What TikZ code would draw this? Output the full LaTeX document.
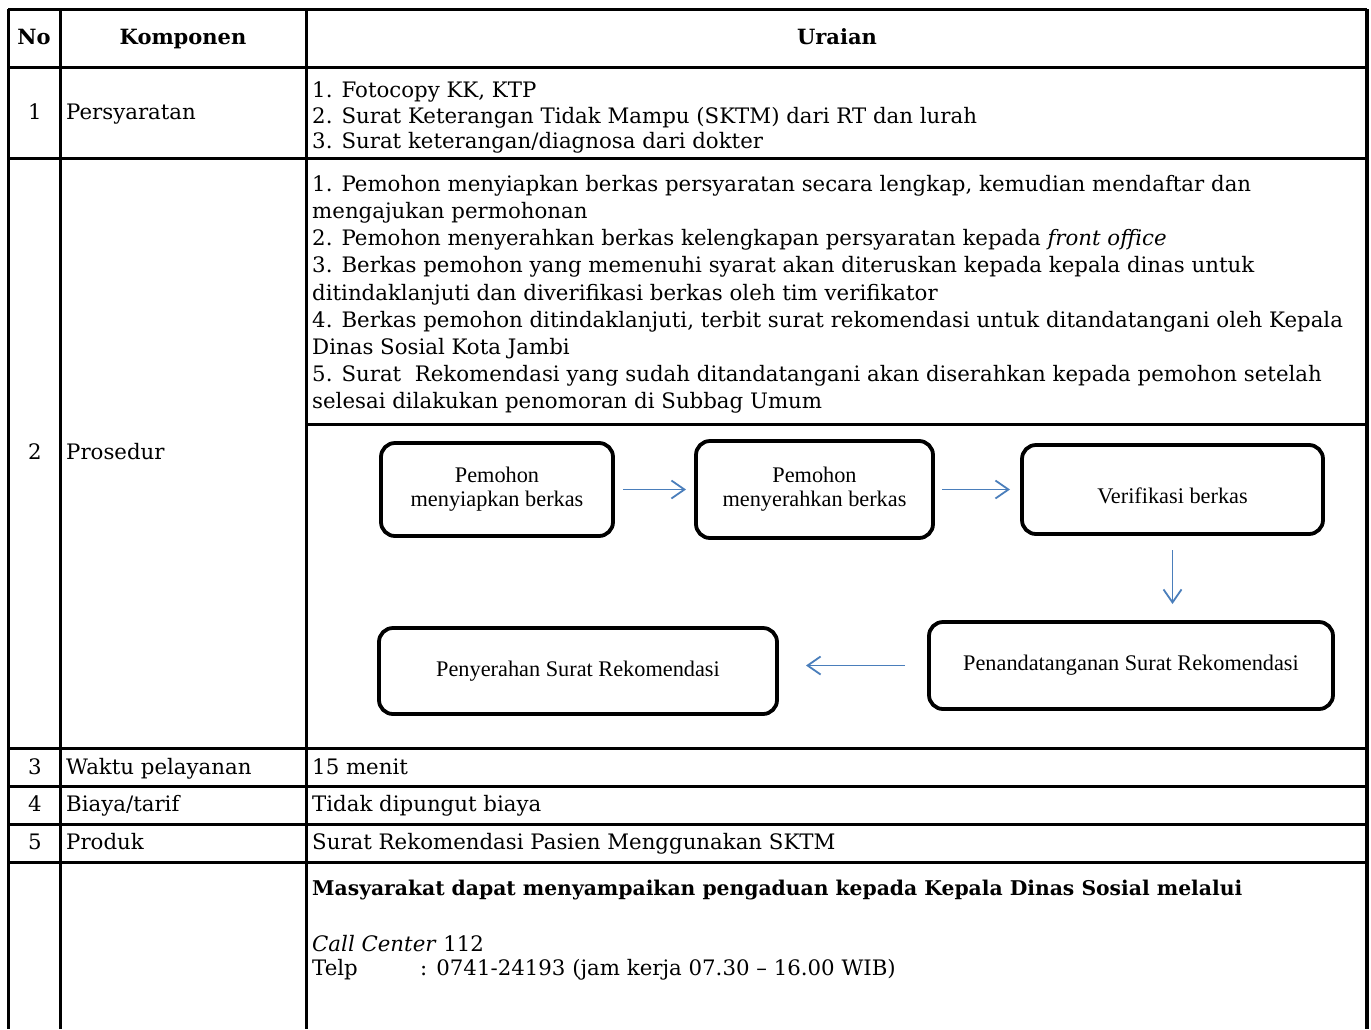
\documentclass[tikz,border=0pt]{standalone}
\usepackage{fontspec}
\setmainfont{DejaVu Serif}
\newfontfamily\boxfont{Liberation Serif}
\usetikzlibrary{positioning,arrows.meta}
\definecolor{flowblue}{HTML}{4A7EBB}

\tikzset{
  rule/.style={line width=3pt},
  txt/.style={anchor=base west, inner sep=0pt, font=\fontsize{21.3}{24.1}\selectfont},
  para/.style={anchor=north west, inner sep=0pt, align=left, font=\fontsize{21.3}{27.1}\selectfont},
  num/.style={anchor=base, inner sep=0pt, font=\fontsize{21.3}{24.1}\selectfont},
  head/.style={anchor=base, inner sep=0pt, font=\fontsize{21}{24.1}\selectfont\bfseries},
  stepbox/.style={draw, line width=3.8pt, rounded corners=14pt, align=center, inner sep=0pt,
    outer sep=0pt, font=\boxfont\fontsize{22.3}{24}\selectfont},
  flow/.style={draw=flowblue, line width=1.8pt, -{Straight Barb[length=13pt,width=18pt]}},
}

\begin{document}
\begin{tikzpicture}[x=1pt, y=-1pt]

    \useasboundingbox (0,0) rectangle (1371,1029);

    % Table rules
    \foreach \y in {9,67,158,748,786,824,862}
      \draw[rule] (8,\y) -- (1367,\y);
    \draw[rule] (306,424) -- (1367,424);
    \foreach \x in {8,60,306}
      \draw[rule] (\x,9) -- (\x,1029);
    \draw[rule, line width=4.4pt] (1367,9) -- (1367,1029);

    % Header
    \node[head] (hno)   at (34,44)  {No};
    \node[head] (hkomp) at (183,44) {Komponen};
    \node[head] (hur)   at (837,44) {Uraian};

    % Row labels
    \node[num] (n1) at (35,119) {1};
    \node[num] (n2) at (35,459) {2};
    \node[num] (n3) at (35,774) {3};
    \node[num] (n4) at (35,811) {4};
    \node[num] (n5) at (35,849) {5};
    \node[txt] (k1) at (66,119) {Persyaratan};
    \node[txt] (k2) at (66,459) {Prosedur};
    \node[txt] (k3) at (66,774) {Waktu pelayanan};
    \node[txt] (k4) at (66,811) {Biaya/tarif};
    \node[txt] (k5) at (66,849) {Produk};

    % Uraian
    \node[para, font=\fontsize{21.3}{25.5}\selectfont] (u1) at (312,79.7)
      {\strut 1. Fotocopy KK, KTP\\
       2. Surat Keterangan Tidak Mampu (SKTM) dari RT dan lurah\\
       3. Surat keterangan/diagnosa dari dokter};
    \node[para] (u2) at (312,172.5)
      {\strut 1. Pemohon menyiapkan berkas persyaratan secara lengkap, kemudian mendaftar dan\\
       mengajukan permohonan\\
       2. Pemohon menyerahkan berkas kelengkapan persyaratan kepada \textit{front office}\\
       3. Berkas pemohon yang memenuhi syarat akan diteruskan kepada kepala dinas untuk\\
       ditindaklanjuti dan diverifikasi berkas oleh tim verifikator\\
       4. Berkas pemohon ditindaklanjuti, terbit surat rekomendasi untuk ditandatangani oleh Kepala\\
       Dinas Sosial Kota Jambi\\
       5. Surat~ Rekomendasi yang sudah ditandatangani akan diserahkan kepada pemohon setelah\\
       selesai dilakukan penomoran di Subbag Umum};
    \node[txt] (u3) at (312,774) {15 menit};
    \node[txt] (u4) at (312,811) {Tidak dipungut biaya};
    \node[txt] (u5) at (312,849) {Surat Rekomendasi Pasien Menggunakan SKTM};
    \node[txt, font=\fontsize{20.3}{24.1}\selectfont\bfseries] (u6) at (312,895)
      {Masyarakat dapat menyampaikan pengaduan kepada Kepala Dinas Sosial melalui};
    \node[para, font=\fontsize{21.3}{24.1}\selectfont] (u7) at (312,934)
      {\strut\textit{Call Center} 112\\
       \makebox[108pt][l]{Telp}: 0741-24193 (jam kerja 07.30 -- 16.00 WIB)};

    % Flow boxes
    \node[stepbox, minimum width=232pt, minimum height=93pt] (A) at (497,489.5)
      {Pemohon\\menyiapkan berkas};
    \node[stepbox, minimum width=237pt, minimum height=97pt, right=83pt of A] (B)
      {Pemohon\\menyerahkan berkas};
    \node[stepbox, minimum width=301pt, minimum height=89pt, right=89pt of B] (C)
      {\raisebox{-6pt}[\height][\depth]{Verifikasi berkas}};
    \node[stepbox, minimum width=404pt, minimum height=87pt, below=88pt of C, xshift=-41.5pt] (D)
      {Penandatanganan Surat Rekomendasi};
    \node[stepbox, minimum width=398pt, minimum height=86pt, left=152pt of D, yshift=-5.5pt] (E)
      {Penyerahan Surat Rekomendasi};

    % Connect the boxes
    \draw[flow, shorten <=10pt, shorten >=10pt] (A) -- (B);
    \draw[flow, shorten <=9pt, shorten >=12pt] (B) -- (C);
    \draw[flow, shorten <=16pt, shorten >=18pt] (C.south) -- (C.south |- D.north);
    \draw[flow, shorten <=24pt, shorten >=29pt] (D.west) -- (D.west -| E.east);

\end{tikzpicture}
\end{document}
